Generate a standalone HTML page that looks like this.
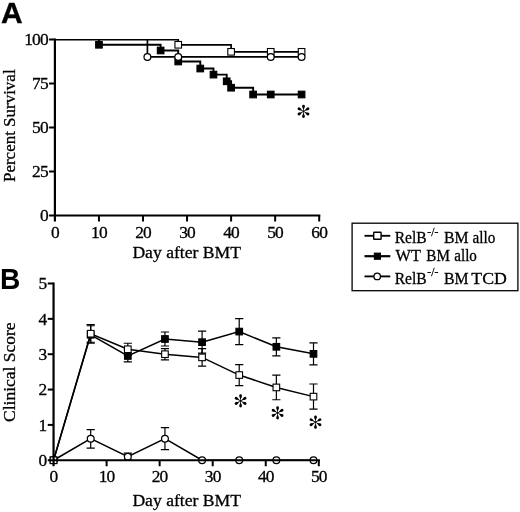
<!DOCTYPE html>
<html><head><meta charset="utf-8"><title>Figure</title>
<style>html,body{margin:0;padding:0;background:#fff;}svg{display:block;will-change:transform;}text{font-family:"Liberation Serif",serif;fill:#000;stroke:#000;stroke-width:0.3px;}.b{font-family:"Liberation Sans",sans-serif;font-weight:bold;stroke:none;}</style>
</head><body>
<svg width="520" height="512" viewBox="0 0 520 512">
<rect width="520" height="512" fill="#fff"/>
<text class="b" transform="translate(0.9 22.6) scale(1.04 1)" font-size="28.8" style="stroke:#000;stroke-width:0.35px">A</text>
<text class="b" transform="translate(-0.1 288.9) scale(0.97 1)" font-size="29">B</text>
<g stroke="#000" stroke-width="2.2" fill="none">
<path d="M54.90 38.50 V221.50"/>
<path d="M49.10 215.50 H320.30"/>
<path d="M49.10 171.50 H54.90" stroke-width="2"/>
<path d="M49.10 127.50 H54.90" stroke-width="2"/>
<path d="M49.10 83.50 H54.90" stroke-width="2"/>
<path d="M49.10 39.50 H54.90" stroke-width="2"/>
<path d="M98.95 215.50 V221.50" stroke-width="2"/>
<path d="M143.00 215.50 V221.50" stroke-width="2"/>
<path d="M187.05 215.50 V221.50" stroke-width="2"/>
<path d="M231.10 215.50 V221.50" stroke-width="2"/>
<path d="M275.15 215.50 V221.50" stroke-width="2"/>
<path d="M319.20 215.50 V221.50" stroke-width="2"/>
</g>
<text transform="translate(48.60 221.35) scale(1.0 1)" x="-0.9" font-size="17.4" letter-spacing="-0.9" text-anchor="end">0</text>
<text transform="translate(48.60 177.35) scale(1.0 1)" x="-0.9" font-size="17.4" letter-spacing="-0.9" text-anchor="end">25</text>
<text transform="translate(48.60 133.35) scale(1.0 1)" x="-0.9" font-size="17.4" letter-spacing="-0.9" text-anchor="end">50</text>
<text transform="translate(48.60 89.35) scale(1.0 1)" x="-0.9" font-size="17.4" letter-spacing="-0.9" text-anchor="end">75</text>
<text transform="translate(48.60 45.35) scale(1.0 1)" x="-0.9" font-size="17.4" letter-spacing="-0.9" text-anchor="end">100</text>
<text transform="translate(55.30 237.90) scale(1.0 1)" x="-0.45" font-size="17.4" letter-spacing="-0.9" text-anchor="middle">0</text>
<text transform="translate(99.35 237.90) scale(1.0 1)" x="-0.45" font-size="17.4" letter-spacing="-0.9" text-anchor="middle">10</text>
<text transform="translate(143.40 237.90) scale(1.0 1)" x="-0.45" font-size="17.4" letter-spacing="-0.9" text-anchor="middle">20</text>
<text transform="translate(187.45 237.90) scale(1.0 1)" x="-0.45" font-size="17.4" letter-spacing="-0.9" text-anchor="middle">30</text>
<text transform="translate(231.50 237.90) scale(1.0 1)" x="-0.45" font-size="17.4" letter-spacing="-0.9" text-anchor="middle">40</text>
<text transform="translate(275.55 237.90) scale(1.0 1)" x="-0.45" font-size="17.4" letter-spacing="-0.9" text-anchor="middle">50</text>
<text transform="translate(319.60 237.90) scale(1.0 1)" x="-0.45" font-size="17.4" letter-spacing="-0.9" text-anchor="middle">60</text>
<text x="132.4" y="258.1" font-size="17.7" textLength="108.6" lengthAdjust="spacingAndGlyphs">Day after BMT</text>
<text transform="translate(14.9 182.0) rotate(-90)" font-size="17.7" textLength="112.6" lengthAdjust="spacingAndGlyphs">Percent Survival</text>
<path d="M54.90 39.80 H179.04" fill="none" stroke="#000" stroke-width="1.4"/>
<path d="M98.95 39.85 H98.95 V44.78 H160.62 V50.50 H178.24 V61.50 H200.27 V68.54 H213.48 V74.61 H226.70 V81.30 H231.10 V87.72 H253.13 V94.50 H301.58" fill="none" stroke="#000" stroke-width="1.9"/>
<path d="M178.24 39.85 H178.24 V44.78 H231.10 V51.82 H301.58" fill="none" stroke="#000" stroke-width="1.7"/>
<path d="M147.41 39.85 H147.41 V56.92 H301.58" fill="none" stroke="#000" stroke-width="1.7"/>
<rect x="95.65" y="41.48" width="6.6" height="6.6" fill="#000" stroke="#000" stroke-width="1.1"/>
<rect x="157.32" y="47.20" width="6.6" height="6.6" fill="#000" stroke="#000" stroke-width="1.1"/>
<rect x="174.94" y="58.20" width="6.6" height="6.6" fill="#000" stroke="#000" stroke-width="1.1"/>
<rect x="196.97" y="65.24" width="6.6" height="6.6" fill="#000" stroke="#000" stroke-width="1.1"/>
<rect x="210.18" y="71.31" width="6.6" height="6.6" fill="#000" stroke="#000" stroke-width="1.1"/>
<rect x="223.40" y="78.00" width="6.6" height="6.6" fill="#000" stroke="#000" stroke-width="1.1"/>
<rect x="227.80" y="84.42" width="6.6" height="6.6" fill="#000" stroke="#000" stroke-width="1.1"/>
<rect x="249.83" y="91.20" width="6.6" height="6.6" fill="#000" stroke="#000" stroke-width="1.1"/>
<rect x="267.44" y="91.20" width="6.6" height="6.6" fill="#000" stroke="#000" stroke-width="1.1"/>
<rect x="298.28" y="91.20" width="6.6" height="6.6" fill="#000" stroke="#000" stroke-width="1.1"/>
<rect x="174.94" y="41.48" width="6.6" height="6.6" fill="#fff" stroke="#000" stroke-width="1.1"/>
<rect x="227.80" y="48.52" width="6.6" height="6.6" fill="#fff" stroke="#000" stroke-width="1.1"/>
<rect x="267.44" y="48.52" width="6.6" height="6.6" fill="#fff" stroke="#000" stroke-width="1.1"/>
<rect x="298.28" y="48.52" width="6.6" height="6.6" fill="#fff" stroke="#000" stroke-width="1.1"/>
<circle cx="147.41" cy="56.92" r="3.4" fill="#fff" stroke="#000" stroke-width="1.25"/>
<circle cx="178.24" cy="56.92" r="3.4" fill="#fff" stroke="#000" stroke-width="1.25"/>
<circle cx="270.75" cy="56.92" r="3.4" fill="#fff" stroke="#000" stroke-width="1.25"/>
<circle cx="301.58" cy="56.92" r="3.4" fill="#fff" stroke="#000" stroke-width="1.25"/>
<g transform="translate(303.50 111.40)" fill="#000"><path d="M-0.32 0.2 L-0.32 -1.6 C-0.45 -3.02 -1.38 -3.92 -1.38 -5.22 A1.38 1.38 0 1 1 1.38 -5.22 C1.38 -3.92 0.45 -3.02 0.32 -1.6 L0.32 0.2 Z" transform="rotate(0)"/><path d="M-0.32 0.2 L-0.32 -1.6 C-0.45 -3.02 -1.38 -3.92 -1.38 -5.22 A1.38 1.38 0 1 1 1.38 -5.22 C1.38 -3.92 0.45 -3.02 0.32 -1.6 L0.32 0.2 Z" transform="rotate(60)"/><path d="M-0.32 0.2 L-0.32 -1.6 C-0.45 -3.02 -1.38 -3.92 -1.38 -5.22 A1.38 1.38 0 1 1 1.38 -5.22 C1.38 -3.92 0.45 -3.02 0.32 -1.6 L0.32 0.2 Z" transform="rotate(120)"/><path d="M-0.32 0.2 L-0.32 -1.6 C-0.45 -3.02 -1.38 -3.92 -1.38 -5.22 A1.38 1.38 0 1 1 1.38 -5.22 C1.38 -3.92 0.45 -3.02 0.32 -1.6 L0.32 0.2 Z" transform="rotate(180)"/><path d="M-0.32 0.2 L-0.32 -1.6 C-0.45 -3.02 -1.38 -3.92 -1.38 -5.22 A1.38 1.38 0 1 1 1.38 -5.22 C1.38 -3.92 0.45 -3.02 0.32 -1.6 L0.32 0.2 Z" transform="rotate(240)"/><path d="M-0.32 0.2 L-0.32 -1.6 C-0.45 -3.02 -1.38 -3.92 -1.38 -5.22 A1.38 1.38 0 1 1 1.38 -5.22 C1.38 -3.92 0.45 -3.02 0.32 -1.6 L0.32 0.2 Z" transform="rotate(300)"/><circle r="0.75"/></g>
<polyline points="53.55,460.25 90.69,438.69 127.82,456.71 164.95,438.69 202.09,460.25 239.22,460.25 276.36,460.25 313.50,460.25" fill="none" stroke="#000" stroke-width="1.5"/>
<path d="M90.69 429.69 V448.19 M86.59 429.69 h8.2 M86.59 448.19 h8.2" fill="none" stroke="#000" stroke-width="1.2"/>
<path d="M127.82 453.21 V460.21 M123.72 453.21 h8.2 M123.72 460.21 h8.2" fill="none" stroke="#000" stroke-width="1.2"/>
<path d="M164.95 427.69 V449.69 M160.85 427.69 h8.2 M160.85 449.69 h8.2" fill="none" stroke="#000" stroke-width="1.2"/>
<circle cx="53.55" cy="460.25" r="3.4" fill="#fff" stroke="#000" stroke-width="1.25"/>
<circle cx="90.69" cy="438.69" r="3.4" fill="#fff" stroke="#000" stroke-width="1.25"/>
<circle cx="127.82" cy="456.71" r="3.4" fill="#fff" stroke="#000" stroke-width="1.25"/>
<circle cx="164.95" cy="438.69" r="3.4" fill="#fff" stroke="#000" stroke-width="1.25"/>
<circle cx="202.09" cy="460.25" r="3.4" fill="#fff" stroke="#000" stroke-width="1.25"/>
<circle cx="239.22" cy="460.25" r="3.4" fill="#fff" stroke="#000" stroke-width="1.25"/>
<circle cx="276.36" cy="460.25" r="3.4" fill="#fff" stroke="#000" stroke-width="1.25"/>
<circle cx="313.50" cy="460.25" r="3.4" fill="#fff" stroke="#000" stroke-width="1.25"/>
<polyline points="53.55,460.25 90.69,334.76 127.82,355.97 164.95,339.00 202.09,342.18 239.22,331.58 276.36,346.78 313.50,353.85" fill="none" stroke="#000" stroke-width="1.5"/>
<path d="M90.69 325.76 V342.26 M86.59 325.76 h8.2 M86.59 342.26 h8.2" fill="none" stroke="#000" stroke-width="1.2"/>
<path d="M127.82 349.97 V361.97 M123.72 349.97 h8.2 M123.72 361.97 h8.2" fill="none" stroke="#000" stroke-width="1.2"/>
<path d="M164.95 332.00 V346.00 M160.85 332.00 h8.2 M160.85 346.00 h8.2" fill="none" stroke="#000" stroke-width="1.2"/>
<path d="M202.09 331.18 V353.18 M197.99 331.18 h8.2 M197.99 353.18 h8.2" fill="none" stroke="#000" stroke-width="1.2"/>
<path d="M239.22 318.58 V344.58 M235.12 318.58 h8.2 M235.12 344.58 h8.2" fill="none" stroke="#000" stroke-width="1.2"/>
<path d="M276.36 337.78 V355.78 M272.26 337.78 h8.2 M272.26 355.78 h8.2" fill="none" stroke="#000" stroke-width="1.2"/>
<path d="M313.50 342.85 V364.85 M309.39 342.85 h8.2 M309.39 364.85 h8.2" fill="none" stroke="#000" stroke-width="1.2"/>
<rect x="50.25" y="456.95" width="6.6" height="6.6" fill="#000" stroke="#000" stroke-width="1.1"/>
<rect x="87.39" y="331.46" width="6.6" height="6.6" fill="#000" stroke="#000" stroke-width="1.1"/>
<rect x="124.52" y="352.67" width="6.6" height="6.6" fill="#000" stroke="#000" stroke-width="1.1"/>
<rect x="161.65" y="335.70" width="6.6" height="6.6" fill="#000" stroke="#000" stroke-width="1.1"/>
<rect x="198.79" y="338.88" width="6.6" height="6.6" fill="#000" stroke="#000" stroke-width="1.1"/>
<rect x="235.92" y="328.28" width="6.6" height="6.6" fill="#000" stroke="#000" stroke-width="1.1"/>
<rect x="273.06" y="343.48" width="6.6" height="6.6" fill="#000" stroke="#000" stroke-width="1.1"/>
<rect x="310.19" y="350.55" width="6.6" height="6.6" fill="#000" stroke="#000" stroke-width="1.1"/>
<polyline points="53.55,460.25 90.69,333.70 127.82,349.25 164.95,354.20 202.09,357.38 239.22,375.06 276.36,387.43 313.50,396.62" fill="none" stroke="#000" stroke-width="1.5"/>
<path d="M90.69 324.70 V343.20 M86.59 324.70 h8.2 M86.59 343.20 h8.2" fill="none" stroke="#000" stroke-width="1.2"/>
<path d="M127.82 343.25 V355.25 M123.72 343.25 h8.2 M123.72 355.25 h8.2" fill="none" stroke="#000" stroke-width="1.2"/>
<path d="M164.95 348.60 V359.80 M160.85 348.60 h8.2 M160.85 359.80 h8.2" fill="none" stroke="#000" stroke-width="1.2"/>
<path d="M202.09 348.63 V366.13 M197.99 348.63 h8.2 M197.99 366.13 h8.2" fill="none" stroke="#000" stroke-width="1.2"/>
<path d="M239.22 364.56 V385.56 M235.12 364.56 h8.2 M235.12 385.56 h8.2" fill="none" stroke="#000" stroke-width="1.2"/>
<path d="M276.36 375.13 V399.73 M272.26 375.13 h8.2 M272.26 399.73 h8.2" fill="none" stroke="#000" stroke-width="1.2"/>
<path d="M313.50 384.02 V409.22 M309.39 384.02 h8.2 M309.39 409.22 h8.2" fill="none" stroke="#000" stroke-width="1.2"/>
<rect x="50.25" y="456.95" width="6.6" height="6.6" fill="#fff" stroke="#000" stroke-width="1.1"/>
<rect x="87.39" y="330.40" width="6.6" height="6.6" fill="#fff" stroke="#000" stroke-width="1.1"/>
<rect x="124.52" y="345.95" width="6.6" height="6.6" fill="#fff" stroke="#000" stroke-width="1.1"/>
<rect x="161.65" y="350.90" width="6.6" height="6.6" fill="#fff" stroke="#000" stroke-width="1.1"/>
<rect x="198.79" y="354.08" width="6.6" height="6.6" fill="#fff" stroke="#000" stroke-width="1.1"/>
<rect x="235.92" y="371.76" width="6.6" height="6.6" fill="#fff" stroke="#000" stroke-width="1.1"/>
<rect x="273.06" y="384.13" width="6.6" height="6.6" fill="#fff" stroke="#000" stroke-width="1.1"/>
<rect x="310.19" y="393.32" width="6.6" height="6.6" fill="#fff" stroke="#000" stroke-width="1.1"/>
<g transform="translate(240.60 400.90)" fill="#000"><path d="M-0.32 0.2 L-0.32 -1.6 C-0.45 -3.02 -1.38 -3.92 -1.38 -5.22 A1.38 1.38 0 1 1 1.38 -5.22 C1.38 -3.92 0.45 -3.02 0.32 -1.6 L0.32 0.2 Z" transform="rotate(0)"/><path d="M-0.32 0.2 L-0.32 -1.6 C-0.45 -3.02 -1.38 -3.92 -1.38 -5.22 A1.38 1.38 0 1 1 1.38 -5.22 C1.38 -3.92 0.45 -3.02 0.32 -1.6 L0.32 0.2 Z" transform="rotate(60)"/><path d="M-0.32 0.2 L-0.32 -1.6 C-0.45 -3.02 -1.38 -3.92 -1.38 -5.22 A1.38 1.38 0 1 1 1.38 -5.22 C1.38 -3.92 0.45 -3.02 0.32 -1.6 L0.32 0.2 Z" transform="rotate(120)"/><path d="M-0.32 0.2 L-0.32 -1.6 C-0.45 -3.02 -1.38 -3.92 -1.38 -5.22 A1.38 1.38 0 1 1 1.38 -5.22 C1.38 -3.92 0.45 -3.02 0.32 -1.6 L0.32 0.2 Z" transform="rotate(180)"/><path d="M-0.32 0.2 L-0.32 -1.6 C-0.45 -3.02 -1.38 -3.92 -1.38 -5.22 A1.38 1.38 0 1 1 1.38 -5.22 C1.38 -3.92 0.45 -3.02 0.32 -1.6 L0.32 0.2 Z" transform="rotate(240)"/><path d="M-0.32 0.2 L-0.32 -1.6 C-0.45 -3.02 -1.38 -3.92 -1.38 -5.22 A1.38 1.38 0 1 1 1.38 -5.22 C1.38 -3.92 0.45 -3.02 0.32 -1.6 L0.32 0.2 Z" transform="rotate(300)"/><circle r="0.75"/></g>
<g transform="translate(277.60 412.90)" fill="#000"><path d="M-0.32 0.2 L-0.32 -1.6 C-0.45 -3.02 -1.38 -3.92 -1.38 -5.22 A1.38 1.38 0 1 1 1.38 -5.22 C1.38 -3.92 0.45 -3.02 0.32 -1.6 L0.32 0.2 Z" transform="rotate(0)"/><path d="M-0.32 0.2 L-0.32 -1.6 C-0.45 -3.02 -1.38 -3.92 -1.38 -5.22 A1.38 1.38 0 1 1 1.38 -5.22 C1.38 -3.92 0.45 -3.02 0.32 -1.6 L0.32 0.2 Z" transform="rotate(60)"/><path d="M-0.32 0.2 L-0.32 -1.6 C-0.45 -3.02 -1.38 -3.92 -1.38 -5.22 A1.38 1.38 0 1 1 1.38 -5.22 C1.38 -3.92 0.45 -3.02 0.32 -1.6 L0.32 0.2 Z" transform="rotate(120)"/><path d="M-0.32 0.2 L-0.32 -1.6 C-0.45 -3.02 -1.38 -3.92 -1.38 -5.22 A1.38 1.38 0 1 1 1.38 -5.22 C1.38 -3.92 0.45 -3.02 0.32 -1.6 L0.32 0.2 Z" transform="rotate(180)"/><path d="M-0.32 0.2 L-0.32 -1.6 C-0.45 -3.02 -1.38 -3.92 -1.38 -5.22 A1.38 1.38 0 1 1 1.38 -5.22 C1.38 -3.92 0.45 -3.02 0.32 -1.6 L0.32 0.2 Z" transform="rotate(240)"/><path d="M-0.32 0.2 L-0.32 -1.6 C-0.45 -3.02 -1.38 -3.92 -1.38 -5.22 A1.38 1.38 0 1 1 1.38 -5.22 C1.38 -3.92 0.45 -3.02 0.32 -1.6 L0.32 0.2 Z" transform="rotate(300)"/><circle r="0.75"/></g>
<g transform="translate(315.50 422.20)" fill="#000"><path d="M-0.32 0.2 L-0.32 -1.6 C-0.45 -3.02 -1.38 -3.92 -1.38 -5.22 A1.38 1.38 0 1 1 1.38 -5.22 C1.38 -3.92 0.45 -3.02 0.32 -1.6 L0.32 0.2 Z" transform="rotate(0)"/><path d="M-0.32 0.2 L-0.32 -1.6 C-0.45 -3.02 -1.38 -3.92 -1.38 -5.22 A1.38 1.38 0 1 1 1.38 -5.22 C1.38 -3.92 0.45 -3.02 0.32 -1.6 L0.32 0.2 Z" transform="rotate(60)"/><path d="M-0.32 0.2 L-0.32 -1.6 C-0.45 -3.02 -1.38 -3.92 -1.38 -5.22 A1.38 1.38 0 1 1 1.38 -5.22 C1.38 -3.92 0.45 -3.02 0.32 -1.6 L0.32 0.2 Z" transform="rotate(120)"/><path d="M-0.32 0.2 L-0.32 -1.6 C-0.45 -3.02 -1.38 -3.92 -1.38 -5.22 A1.38 1.38 0 1 1 1.38 -5.22 C1.38 -3.92 0.45 -3.02 0.32 -1.6 L0.32 0.2 Z" transform="rotate(180)"/><path d="M-0.32 0.2 L-0.32 -1.6 C-0.45 -3.02 -1.38 -3.92 -1.38 -5.22 A1.38 1.38 0 1 1 1.38 -5.22 C1.38 -3.92 0.45 -3.02 0.32 -1.6 L0.32 0.2 Z" transform="rotate(240)"/><path d="M-0.32 0.2 L-0.32 -1.6 C-0.45 -3.02 -1.38 -3.92 -1.38 -5.22 A1.38 1.38 0 1 1 1.38 -5.22 C1.38 -3.92 0.45 -3.02 0.32 -1.6 L0.32 0.2 Z" transform="rotate(300)"/><circle r="0.75"/></g>
<g stroke="#000" stroke-width="2.2" fill="none">
<path d="M53.55 282.50 V466.25"/>
<path d="M47.75 460.25 H319.90"/>
<path d="M47.75 424.90 H53.55" stroke-width="2"/>
<path d="M47.75 389.55 H53.55" stroke-width="2"/>
<path d="M47.75 354.20 H53.55" stroke-width="2"/>
<path d="M47.75 318.85 H53.55" stroke-width="2"/>
<path d="M47.75 283.50 H53.55" stroke-width="2"/>
<path d="M106.60 460.25 V466.25" stroke-width="2"/>
<path d="M159.65 460.25 V466.25" stroke-width="2"/>
<path d="M212.70 460.25 V466.25" stroke-width="2"/>
<path d="M265.75 460.25 V466.25" stroke-width="2"/>
<path d="M318.80 460.25 V466.25" stroke-width="2"/>
</g>
<text transform="translate(47.25 466.10) scale(1.0 1)" x="-0.9" font-size="17.4" letter-spacing="-0.9" text-anchor="end">0</text>
<text transform="translate(47.25 430.75) scale(1.0 1)" x="-0.9" font-size="17.4" letter-spacing="-0.9" text-anchor="end">1</text>
<text transform="translate(47.25 395.40) scale(1.0 1)" x="-0.9" font-size="17.4" letter-spacing="-0.9" text-anchor="end">2</text>
<text transform="translate(47.25 360.05) scale(1.0 1)" x="-0.9" font-size="17.4" letter-spacing="-0.9" text-anchor="end">3</text>
<text transform="translate(47.25 324.70) scale(1.0 1)" x="-0.9" font-size="17.4" letter-spacing="-0.9" text-anchor="end">4</text>
<text transform="translate(47.25 289.35) scale(1.0 1)" x="-0.9" font-size="17.4" letter-spacing="-0.9" text-anchor="end">5</text>
<text transform="translate(53.95 482.45) scale(1.0 1)" x="-0.45" font-size="17.4" letter-spacing="-0.9" text-anchor="middle">0</text>
<text transform="translate(107.00 482.45) scale(1.0 1)" x="-0.45" font-size="17.4" letter-spacing="-0.9" text-anchor="middle">10</text>
<text transform="translate(160.05 482.45) scale(1.0 1)" x="-0.45" font-size="17.4" letter-spacing="-0.9" text-anchor="middle">20</text>
<text transform="translate(213.10 482.45) scale(1.0 1)" x="-0.45" font-size="17.4" letter-spacing="-0.9" text-anchor="middle">30</text>
<text transform="translate(266.15 482.45) scale(1.0 1)" x="-0.45" font-size="17.4" letter-spacing="-0.9" text-anchor="middle">40</text>
<text transform="translate(319.20 482.45) scale(1.0 1)" x="-0.45" font-size="17.4" letter-spacing="-0.9" text-anchor="middle">50</text>
<text x="132.4" y="506.0" font-size="17.7" textLength="108.6" lengthAdjust="spacingAndGlyphs">Day after BMT</text>
<text transform="translate(15.4 421.9) rotate(-90)" font-size="17.7" textLength="99.5" lengthAdjust="spacingAndGlyphs">Clinical Score</text>
<rect x="352.1" y="223.2" width="165.8" height="67.5" fill="#fff" stroke="#000" stroke-width="1.3"/>
<path d="M364.5 235.8 H390.3" stroke="#000" stroke-width="1.85" fill="none"/>
<path d="M364.5 256.2 H390.3" stroke="#000" stroke-width="2.2" fill="none"/>
<path d="M364.5 276.4 H390.3" stroke="#000" stroke-width="1.85" fill="none"/>
<rect x="373.7" y="232.30" width="7.4" height="7.0" rx="0.6" fill="#fff" stroke="#000" stroke-width="1.4"/>
<rect x="374.35" y="253.15" width="6.1" height="6.1" fill="#000" stroke="#000" stroke-width="1.1"/>
<circle cx="377.20" cy="276.40" r="3.25" fill="#fff" stroke="#000" stroke-width="1.3"/>
<text x="394.7" y="243.0" font-size="17.2" textLength="32.0" lengthAdjust="spacingAndGlyphs">RelB</text>
<text x="427.3" y="235.5" font-size="12.8" textLength="11.0" lengthAdjust="spacingAndGlyphs">-/-</text>
<text x="394.7" y="283.8" font-size="17.2" textLength="32.0" lengthAdjust="spacingAndGlyphs">RelB</text>
<text x="427.3" y="276.3" font-size="12.8" textLength="11.0" lengthAdjust="spacingAndGlyphs">-/-</text>
<text x="444.0" y="243.0" font-size="17.2" textLength="24.6" lengthAdjust="spacingAndGlyphs">BM</text>
<text x="472.5" y="243.0" font-size="17.2" textLength="22.8" lengthAdjust="spacingAndGlyphs">allo</text>
<text x="444.0" y="283.8" font-size="17.2" textLength="24.6" lengthAdjust="spacingAndGlyphs">BM</text>
<text x="471.3" y="283.8" font-size="17.2" textLength="35.6" lengthAdjust="spacingAndGlyphs">TCD</text>
<text x="395.6" y="260.9" font-size="17.2" textLength="25.4" lengthAdjust="spacingAndGlyphs">WT</text>
<text x="426.3" y="260.9" font-size="17.2" textLength="23.6" lengthAdjust="spacingAndGlyphs">BM</text>
<text x="454.3" y="260.9" font-size="17.2" textLength="22.6" lengthAdjust="spacingAndGlyphs">allo</text>
</svg></body></html>
